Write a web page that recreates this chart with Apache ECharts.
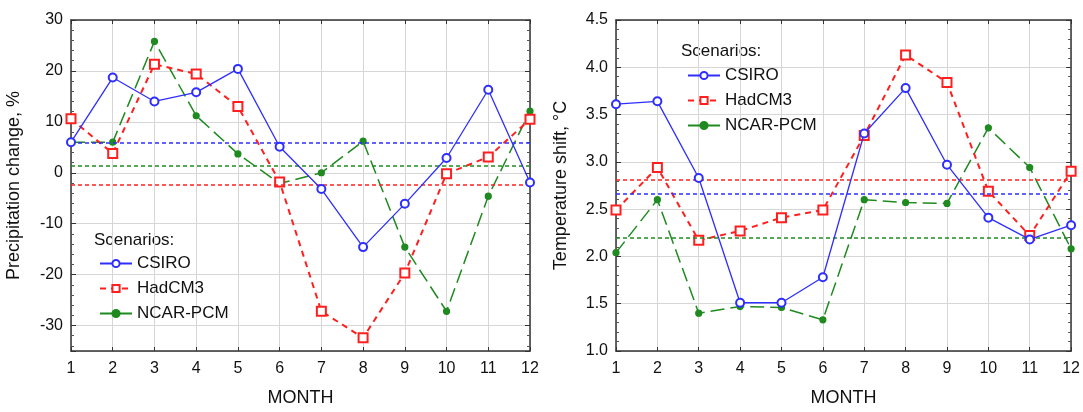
<!DOCTYPE html>
<html>
<head>
<meta charset="utf-8">
<script src="https://cdn.jsdelivr.net/npm/echarts@6/dist/echarts.min.js"></script>
<style>
  html, body { margin: 0; padding: 0; background: #fff; }
  #main { width: 1083px; height: 412px; }
</style>
</head>
<body>
<div id="main"></div>
<script>
// months on the x axis
const months = [1, 2, 3, 4, 5, 6, 7, 8, 9, 10, 11, 12];
const scenarios = ['CSIRO', 'HadCM3', 'NCAR-PCM'];

// precipitation change, %
const precCSIRO = [6.0, 18.7, 14.0, 15.8, 20.4, 5.1, -3.2, -14.6, -6.1, 2.9, 16.3, -1.9];
const precHad = [10.6, 3.8, 21.3, 19.4, 13.0, -1.8, -27.2, -32.4, -19.7, -0.2, 3.1, 10.5];
const precNcar = [6.0, 6.0, 25.8, 11.2, 3.7, -2.1, 0.0, 6.2, -14.6, -27.2, -4.6, 12.1];
const precMeans = [5.8, -2.4, 1.4];

// temperature shift, °C
const tempCSIRO = [3.61, 3.64, 2.83, 1.51, 1.51, 1.78, 3.30, 3.78, 2.97, 2.41, 2.18, 2.33];
const tempHad = [2.49, 2.94, 2.17, 2.27, 2.41, 2.49, 3.28, 4.13, 3.84, 2.69, 2.22, 2.90];
const tempNcar = [2.04, 2.60, 1.40, 1.47, 1.46, 1.33, 2.60, 2.57, 2.56, 3.36, 2.94, 2.08];
const tempMeans = [2.66, 2.81, 2.20];

const colors = ['#2e2eff', '#ff1f1f', '#1f8a1f'];
const font = 'Liberation Sans, Arial, sans-serif';

function pairs(vals) {
    return months.map((m, i) => [m, vals[i]]);
}

function xAxes(gridIndex) {
    return [
        {
            gridIndex: gridIndex, type: 'value', min: 1, max: 12, interval: 1,
            name: 'MONTH', nameLocation: 'middle', nameGap: 38,
            nameTextStyle: { fontSize: 18, color: '#111', fontFamily: font },
            axisLine: { show: true, onZero: false, lineStyle: { color: '#333', width: 1.5 } },
            axisTick: { show: true, inside: true, length: 4, lineStyle: { color: '#333' } },
            axisLabel: { fontSize: 16, color: '#111', margin: 10, fontFamily: font },
            splitLine: { show: true, lineStyle: { color: '#d6d6d6', width: 1 } }
        },
        {
            gridIndex: gridIndex, type: 'value', min: 1, max: 12, interval: 1, position: 'top',
            axisLine: { show: true, onZero: false, lineStyle: { color: '#333', width: 1.5 } },
            axisTick: { show: true, inside: true, length: 4, lineStyle: { color: '#333' } },
            axisLabel: { show: false },
            splitLine: { show: false }
        }
    ];
}

function yAxes(gridIndex, min, max, name, fmt, nameGap) {
    return [
        {
            gridIndex: gridIndex, type: 'value', min: min, max: max,
            name: name, nameLocation: 'middle', nameGap: nameGap,
            nameTextStyle: { fontSize: 18, color: '#111', fontFamily: font },
            axisLine: { show: true, onZero: false, lineStyle: { color: '#333', width: 1.5 } },
            axisTick: { show: true, inside: true, length: 5, lineStyle: { color: '#333' } },
            minorTick: { show: true, splitNumber: 5, length: 3, lineStyle: { color: '#555' } },
            axisLabel: { fontSize: 16, color: '#111', margin: 8, fontFamily: font, formatter: fmt },
            splitLine: { show: true, lineStyle: { color: '#d6d6d6', width: 1 } }
        },
        {
            gridIndex: gridIndex, type: 'value', min: min, max: max, position: 'right',
            axisLine: { show: true, onZero: false, lineStyle: { color: '#333', width: 1.5 } },
            axisTick: { show: true, inside: true, length: 5, lineStyle: { color: '#333' } },
            minorTick: { show: true, splitNumber: 5, length: 3, lineStyle: { color: '#555' } },
            axisLabel: { show: false },
            splitLine: { show: false }
        }
    ];
}

function meanLine(value, color) {
    return {
        silent: true, symbol: 'none', label: { show: false },
        lineStyle: { color: color, type: [4, 3], width: 1.5 },
        data: [{ yAxis: value }]
    };
}

function panelSeries(idx, data, means) {
    const styles = [
        { symbol: 'emptyCircle', symbolSize: 8, type: 'solid', width: 1.3 },
        { symbol: 'emptyRect', symbolSize: 9, type: [6, 5], width: 2 },
        { symbol: 'circle', symbolSize: 6, type: [14, 6], width: 1.5 }
    ];
    return data.map((vals, k) => ({
        name: scenarios[k],
        type: 'line',
        xAxisIndex: idx * 2,
        yAxisIndex: idx * 2,
        data: pairs(vals),
        symbol: styles[k].symbol,
        symbolSize: styles[k].symbolSize,
        clip: false,
        z: 3 - k + 2,
        itemStyle: { color: colors[k], borderColor: colors[k], borderWidth: 1.2 },
        lineStyle: { color: colors[k], type: styles[k].type, width: styles[k].width },
        markLine: meanLine(means[k], colors[k])
    }));
}

let myChart = echarts.init(document.getElementById('main'));

let option = {
    animation: false,
    backgroundColor: '#fff',
    grid: [
        { left: 71, top: 20, width: 459, height: 336, show: false },
        { left: 616, top: 20, width: 458, height: 336, show: false }
    ],
    xAxis: xAxes(0).concat(xAxes(1)),
    yAxis: yAxes(0, -35, 30, 'Precipitation change, %',
        v => (v % 10 === 0 ? String(v) : ''), 48)
        .concat(yAxes(1, 1, 4.5, 'Temperature shift, °C', v => v.toFixed(1), 46)),
    legend: [
        {
            data: scenarios, orient: 'vertical', left: 94, top: 250,
            itemWidth: 32, itemHeight: 9, itemGap: 8,
            textStyle: { fontSize: 17, color: '#111', fontFamily: font },
            selectedMode: false
        },
        {
            data: scenarios, orient: 'vertical', left: 682, top: 62,
            itemWidth: 32, itemHeight: 9, itemGap: 8,
            textStyle: { fontSize: 17, color: '#111', fontFamily: font },
            selectedMode: false
        }
    ],
    graphic: [
        { type: 'text', left: 94, top: 232, style: { text: 'Scenarios:', fontSize: 17, fill: '#111', fontFamily: font } },
        { type: 'text', left: 681, top: 43, style: { text: 'Scenarios:', fontSize: 17, fill: '#111', fontFamily: font } }
    ],
    series: panelSeries(0, [precCSIRO, precHad, precNcar], precMeans)
        .concat(panelSeries(1, [tempCSIRO, tempHad, tempNcar], tempMeans))
};
option.yAxis[2].interval = 0.5;
option.yAxis[3].interval = 0.5;

myChart.setOption(option);
</script>
</body>
</html>
